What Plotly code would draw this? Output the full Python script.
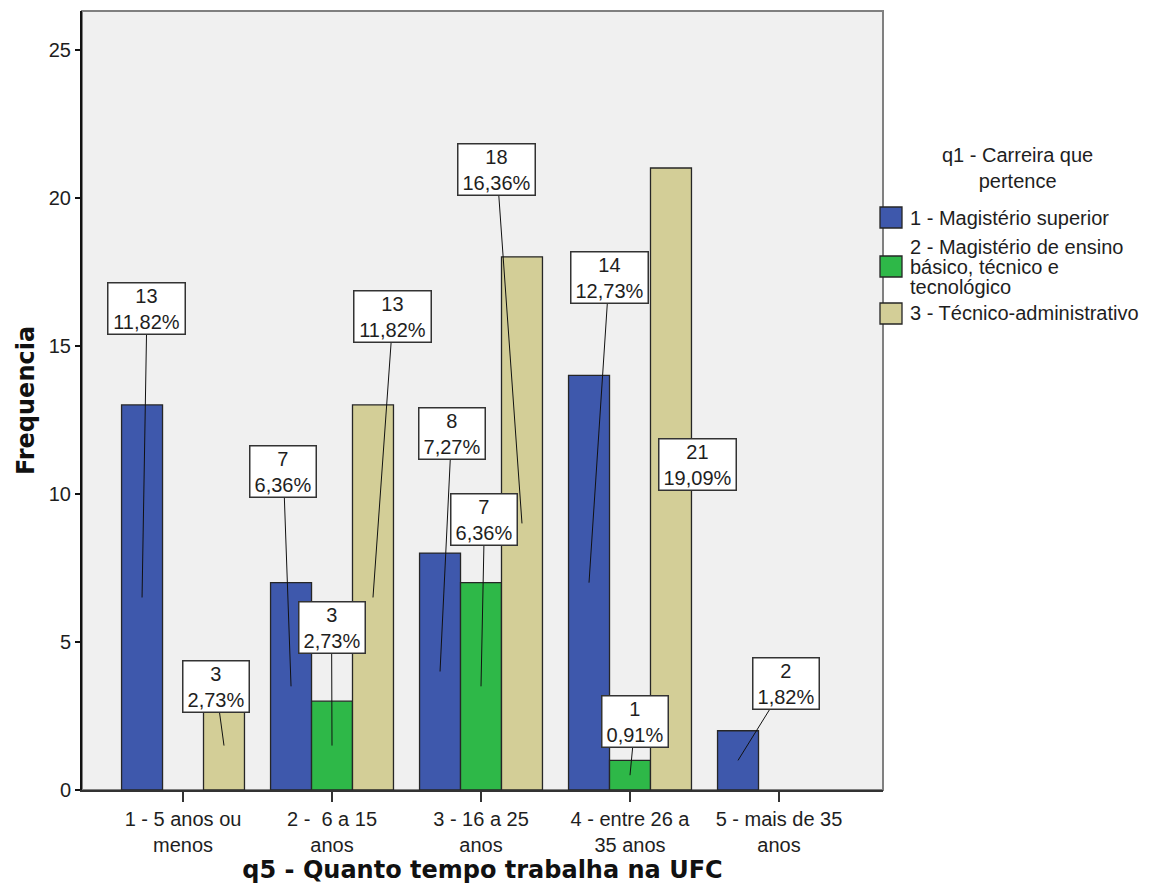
import plotly.graph_objects as go

# Categories of q5 (tempo de trabalho na UFC)
categories = [
    "1 - 5 anos ou<br>menos",
    "2 - \u00a06 a 15<br>anos",
    "3 - 16 a 25<br>anos",
    "4 - entre 26 a<br>35 anos",
    "5 - mais de 35<br>anos",
]

# Series of q1 (carreira que pertence)
series_names = [
    "1 - Magistério superior",
    "2 - Magistério de ensino básico, técnico e tecnológico",
    "3 - Técnico-administrativo",
]
magisterio_superior = [13, 7, 8, 14, 2]
magisterio_ebtt = [0, 3, 7, 1, 0]
tecnico_administrativo = [3, 13, 18, 21, 0]

y_ticks = [0, 5, 10, 15, 20, 25]

# ---- styling / layout -------------------------------------------------
colors = ["#3E58AC", "#2EB848", "#D3CE97"]
outline = "#262626"
text_color = "#1e1e1e"
font_reg = "Liberation Sans, Arial, sans-serif"
font_bold = "DejaVu Sans, sans-serif"

bargap = 0.175
n_series = 3
bar_w = (1 - bargap) / n_series

# Label box centres (data units) for each (series, category)
label_pos = {
    (0, 0): (-0.242, 16.27),
    (2, 0): (0.221, 3.51),
    (0, 1): (0.674, 10.74),
    (1, 1): (0.997, 5.49),
    (2, 1): (1.409, 15.98),
    (0, 2): (1.802, 12.03),
    (1, 2): (2.023, 9.14),
    (2, 2): (2.107, 20.96),
    (0, 3): (2.859, 17.30),
    (1, 3): (3.034, 2.30),
    (2, 3): (3.450, 10.98),
    (0, 4): (4.047, 3.61),
}

all_series = [magisterio_superior, magisterio_ebtt, tecnico_administrativo]
total = sum(sum(s) for s in all_series)
x_idx = list(range(len(categories)))

# approximate glyph advance widths (px) of the label font at 20px
GLYPH = {",": 5.6, "%": 17.8}


def text_width(s):
    return sum(GLYPH.get(c, 11.1) for c in s)


fig = go.Figure()

for k, (name, vals) in enumerate(zip(series_names, all_series)):
    fig.add_trace(go.Bar(
        x=x_idx, y=vals, name=name,
        marker=dict(color=colors[k],
                    line=dict(color=outline, width=[1.3 if v else 0 for v in vals])),
        showlegend=False,
    ))

# Leader lines from the label boxes to the middle of each bar
annotations = []
for k, vals in enumerate(all_series):
    for i, v in enumerate(vals):
        if v == 0:
            continue
        bx = i + (k - 1) * bar_w
        lx, ly = label_pos[(k, i)]
        fig.add_trace(go.Scatter(
            x=[lx, bx], y=[ly, v / 2], mode="lines",
            line=dict(color="#111111", width=1),
            hoverinfo="skip", showlegend=False,
        ))
        pct = f"{v / total * 100:.2f}".replace(".", ",") + "%"
        annotations.append(dict(
            x=lx, y=ly, xref="x", yref="y",
            text=f"{v}<br>{pct}", showarrow=False,
            width=round(text_width(pct) + 6),
            font=dict(family=font_reg, size=20, color=text_color),
            bgcolor="white", bordercolor="#333333", borderwidth=1.5,
            borderpad=1, xanchor="center", yanchor="middle",
        ))

# Legend drawn as swatches + text
px_w, px_h = 801, 779


def px(xp):
    return (xp - 82) / px_w


def py(yp):
    return (790 - yp) / px_h


annotations.append(dict(
    x=px(1017), y=py(168), xref="paper", yref="paper",
    text="q1 - Carreira que<br>pertence", showarrow=False,
    font=dict(family=font_reg, size=20, color=text_color),
    xanchor="center", yanchor="middle",
))
legend_lines = [
    (["1 - Magistério superior"], 217.5),
    (["2 - Magistério de ensino", "básico, técnico e", "tecnológico"], 266.5),
    (["3 - Técnico-administrativo"], 313.5),
]
shapes = []
for k, (lines, yc) in enumerate(legend_lines):
    shapes.append(dict(
        type="rect", xref="paper", yref="paper",
        x0=px(880), x1=px(902), y0=py(yc - 10.5), y1=py(yc + 10.5),
        fillcolor=colors[k], line=dict(color=outline, width=1.3),
    ))
    n = len(lines)
    for j, t in enumerate(lines):
        yl = yc + (j - (n - 1) / 2) * 20
        annotations.append(dict(
            x=px(908), y=py(yl), xref="paper", yref="paper",
            text=t, showarrow=False,
            font=dict(family=font_reg, size=20, color=text_color),
            xanchor="left", yanchor="middle",
        ))

# Frame of the plotting area
shapes.append(dict(
    type="rect", xref="paper", yref="paper", x0=0, x1=1, y0=0, y1=1,
    line=dict(color="#808080", width=2), layer="below",
))

fig.update_layout(
    width=1157, height=891,
    margin=dict(l=82, r=274, t=11, b=101),
    paper_bgcolor="white", plot_bgcolor="#F0F0F0",
    barmode="group", bargap=bargap, bargroupgap=0,
    annotations=annotations, shapes=shapes,
    font=dict(family=font_reg, size=20, color=text_color),
    showlegend=False,
)
fig.update_xaxes(
    range=[-0.678, 4.698], tickmode="array", tickvals=x_idx, ticktext=categories,
    showgrid=False, zeroline=False, showline=True, linecolor="#333333", linewidth=1.5,
    ticks="outside", ticklen=10, tickwidth=1.5, tickcolor="#333333",
    tickfont=dict(family=font_reg, size=20, color=text_color),
    title=dict(text="<b>q5 - Quanto tempo trabalha na UFC</b>", standoff=6,
               font=dict(family=font_bold, size=24, color="#111111")),
)
fig.update_yaxes(
    range=[0, 26.3], tickmode="array", tickvals=y_ticks,
    showgrid=False, zeroline=False, showline=True, linecolor="#111111", linewidth=2,
    ticks="outside", ticklen=5, tickwidth=2, tickcolor="#111111",
    tickfont=dict(family=font_reg, size=20, color=text_color),
    title=dict(text="<b>Frequencia</b>", standoff=7,
               font=dict(family=font_bold, size=24, color="#111111")),
)

fig.write_html("out.html")
